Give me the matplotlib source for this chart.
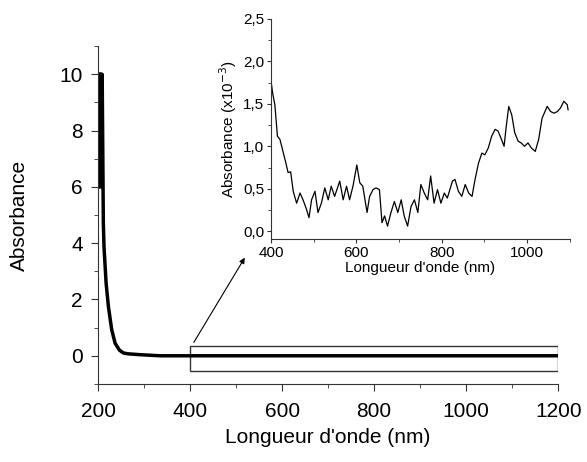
import matplotlib
matplotlib.use("Agg")
import matplotlib.pyplot as plt
from matplotlib.patches import Rectangle
from matplotlib.ticker import MultipleLocator, FuncFormatter

plt.rcParams['font.family'] = ['Liberation Sans', 'DejaVu Sans']

# full spectrum
wl_main = [200, 201, 201.5, 202, 203, 203.5, 204, 205, 205.5, 206, 207, 207.5, 208,
           209, 210.5, 211.5, 213, 217.6, 222.6, 229.8, 237, 246.5, 255, 265,
           290, 335, 400, 600, 800, 1000, 1200]
abs_main = [6.0, 10.0, 6.2, 10.0, 6.1, 10.0, 6.3, 10.0, 6.0, 10.0, 6.5, 10.0, 6.9,
            10.0, 6.9, 4.75, 3.86, 2.57, 1.74, 0.92, 0.45, 0.2, 0.1, 0.07,
            0.04, 0.0, 0.0, 0.0, 0.0, 0.0, 0.0]

# zoom 400-1100 nm, absorbance x10^-3
wl_zoom = [400, 404, 409, 415, 421, 427, 435, 440, 446, 452, 460, 468, 475, 483, 489,
           495, 503, 510, 518, 526, 534, 541, 549, 561, 569, 577, 584, 592, 601, 608,
           615, 625, 631, 639, 646, 654, 660, 666, 673, 681, 689, 697, 705, 712, 720,
           728, 736, 744, 751, 759, 767, 774, 782, 790, 798, 806, 813, 825, 831, 839,
           847, 855, 863, 871, 878, 886, 894, 901, 909, 917, 925, 932, 940, 946, 951,
           957, 964, 971, 979, 986, 994, 1002, 1010, 1019, 1027, 1035, 1047, 1055,
           1063, 1071, 1078, 1086, 1094, 1096]
abs_zoom = [1.77, 1.62, 1.49, 1.12, 1.08, 0.96, 0.80, 0.69, 0.70, 0.47, 0.33, 0.45,
            0.37, 0.26, 0.16, 0.37, 0.47, 0.22, 0.33, 0.51, 0.37, 0.53, 0.41, 0.59,
            0.37, 0.53, 0.37, 0.53, 0.78, 0.57, 0.53, 0.22, 0.41, 0.49, 0.51, 0.49,
            0.10, 0.18, 0.06, 0.22, 0.35, 0.22, 0.37, 0.18, 0.06, 0.29, 0.37, 0.22,
            0.55, 0.45, 0.37, 0.65, 0.33, 0.49, 0.33, 0.45, 0.39, 0.59, 0.61, 0.47,
            0.41, 0.55, 0.45, 0.41, 0.61, 0.80, 0.92, 0.90, 0.98, 1.12, 1.20, 1.18,
            1.08, 1.00, 1.23, 1.47, 1.37, 1.16, 1.06, 1.04, 1.00, 1.04, 0.98, 0.94,
            1.08, 1.33, 1.47, 1.41, 1.39, 1.41, 1.45, 1.53, 1.49, 1.43]

fig = plt.figure(figsize=(5.87, 4.62), dpi=100)
ax = fig.add_axes([0.167, 0.169, 0.784, 0.731])
ax.plot(wl_main, abs_main, color='black', lw=2.5)
ax.set_xlim(200, 1200)
ax.set_ylim(-1, 11)
ax.xaxis.set_major_locator(MultipleLocator(200))
ax.xaxis.set_minor_locator(MultipleLocator(100))
ax.yaxis.set_major_locator(MultipleLocator(2))
ax.yaxis.set_minor_locator(MultipleLocator(1))
for s in ['top', 'right']:
    ax.spines[s].set_visible(False)
for s in ['left', 'bottom']:
    ax.spines[s].set_color('#333333')
ax.tick_params(which='major', direction='out', length=5, labelsize=15, color='#333333')
ax.tick_params(which='minor', direction='out', length=3, color='#333333')
ax.tick_params(axis='x', pad=8)
ax.tick_params(axis='y', pad=6)
ax.set_xlabel("Longueur d'onde (nm)", fontsize=15, labelpad=5)
ax.set_ylabel("Absorbance", fontsize=15, labelpad=22)

ax.add_patch(Rectangle((400, -0.55), 800, 0.91, fill=False, lw=1, edgecolor='#333333'))
ax.annotate('', xy=(522, 3.57), xytext=(405, 0.39),
            arrowprops=dict(arrowstyle='-|>', lw=0.8, color='black', mutation_scale=8))

ins = fig.add_axes([0.4617, 0.483, 0.509, 0.476])
ins.plot(wl_zoom, abs_zoom, color='black', lw=0.9)
ins.set_xlim(400, 1100)
ins.set_ylim(-0.09, 2.5)
ins.xaxis.set_major_locator(MultipleLocator(200))
ins.xaxis.set_minor_locator(MultipleLocator(100))
ins.yaxis.set_major_locator(MultipleLocator(0.5))
ins.yaxis.set_minor_locator(MultipleLocator(0.25))
ins.yaxis.set_major_formatter(FuncFormatter(lambda v, p: f"{v:.1f}".replace('.', ',')))
for s in ['top', 'right']:
    ins.spines[s].set_visible(False)
for s in ['left', 'bottom']:
    ins.spines[s].set_color('#333333')
ins.tick_params(which='major', direction='out', length=3, labelsize=11, color='#333333', pad=2)
ins.tick_params(which='minor', direction='out', length=2, color='#333333')
ins.set_xlabel("Longueur d'onde (nm)", fontsize=11, labelpad=1)
ins.set_ylabel("Absorbance (x10$^{-3}$)", fontsize=11, labelpad=3)

fig.savefig('out.png', dpi=100)
